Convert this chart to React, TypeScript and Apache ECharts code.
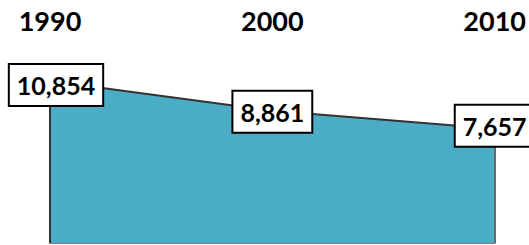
import React, { useEffect, useRef } from "react";
import * as echarts from "echarts";

const years = ["1990", "2000", "2010"];
const population = [10854, 8861, 7657];

const labelOffsets: [number, number][] = [
  [6, 4],
  [0, 1],
  [0, -3],
];

export default function App() {
  const ref = useRef<HTMLDivElement>(null);
  useEffect(() => {
    if (!ref.current) return;
    const chart = echarts.init(ref.current, null, { renderer: "svg" });
    const fmt = (v: number) => v.toLocaleString("en-US");
    const last = years.length - 1;
    chart.setOption({
      animation: false,
      backgroundColor: "#ffffff",
      grid: { left: 50, right: 31, top: 64, bottom: 2, containLabel: false },
      xAxis: [
        {
          type: "category",
          data: years,
          boundaryGap: false,
          position: "top",
          axisLine: { show: false },
          axisTick: { show: false },
          splitLine: { show: false },
          axisLabel: {
            margin: 30,
            fontFamily: "Lato",
            fontWeight: "bold",
            fontSize: 27,
            color: "#000000",
          },
        },
        {
          type: "category",
          data: years,
          boundaryGap: false,
          position: "bottom",
          axisLine: { show: true, lineStyle: { color: "#7a7a7a", width: 2 } },
          axisTick: { show: false },
          axisLabel: { show: false },
        },
      ],
      yAxis: {
        type: "value",
        min: 0,
        max: 12000,
        axisLine: { show: false },
        axisTick: { show: false },
        axisLabel: { show: false },
        splitLine: { show: false },
      },
      series: [
        {
          type: "line",
          data: population,
          symbol: "none",
          lineStyle: { color: "#333333", width: 2 },
          areaStyle: { color: "#4BACC6", opacity: 1 },
          markLine: {
            silent: true,
            symbol: "none",
            label: { show: false },
            data: [
              [
                { coord: [0, 0], lineStyle: { color: "#333333", width: 2, type: "solid" } },
                { coord: [0, population[0]] },
              ],
              [
                { coord: [last, 0], lineStyle: { color: "#6a6a6a", width: 2, type: "solid" } },
                { coord: [last, population[last]] },
              ],
            ],
          },
          z: 2,
        },
        {
          type: "scatter",
          silent: true,
          data: population.map((v, i) => ({
            value: v,
            label: { offset: labelOffsets[i] },
          })),
          symbol: "rect",
          symbolSize: 0,
          itemStyle: { color: "#ffffff", opacity: 1 },
          label: {
            show: true,
            position: "inside",
            formatter: (p: any) => fmt(p.value),
            fontFamily: "Lato",
            fontWeight: "bold",
            fontSize: 25,
            color: "#000000",
            textBorderWidth: 0,
            textBorderColor: "transparent",
            textShadowBlur: 0,
            backgroundColor: "#ffffff",
            borderColor: "#000000",
            borderWidth: 2,
            padding: [8, 7, 7, 7],
          },
          z: 5,
        },
      ],
    });
    return () => chart.dispose();
  }, []);
  return <div ref={ref} style={{ width: 529, height: 245, position: "absolute", left: 0, top: 0 }} />;
}
